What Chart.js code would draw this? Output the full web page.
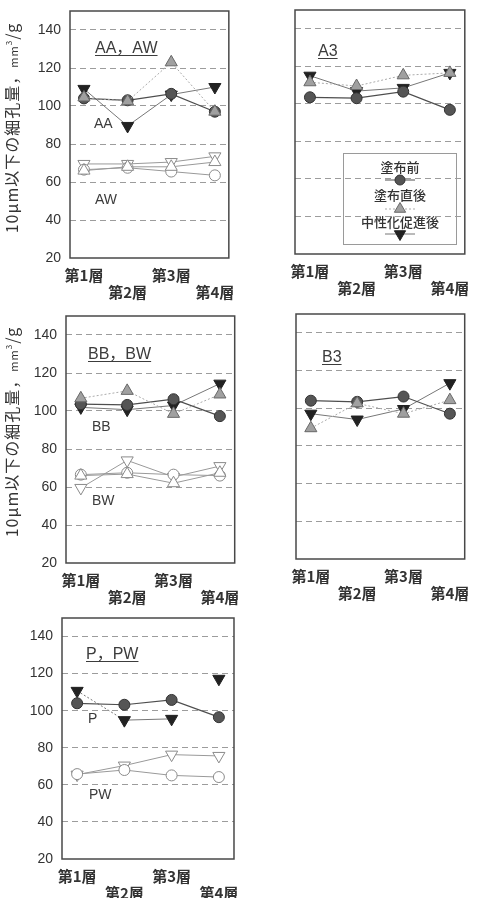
<!DOCTYPE html>
<html><head><meta charset="utf-8">
<script src="https://cdn.jsdelivr.net/npm/chart.js@4"></script>
<style>
html,body{margin:0;padding:0;background:#fff;}
body{width:477px;height:898px;position:relative;overflow:hidden;font-family:"Liberation Sans","Noto Sans CJK JP",Arial,sans-serif;}
.t{position:absolute;color:#3c3c3c;white-space:nowrap;line-height:1;}
.ttl{font-size:16px;text-decoration:underline;text-underline-offset:2px;text-decoration-thickness:1px;}
.lab{font-size:14px;}
.yt{font-family:"Noto Sans CJK JP",sans-serif;font-size:16px;color:#333;transform:translate(-50%,-50%) rotate(-90deg);letter-spacing:1px;}
.yt small{font-size:11px;}
#legend{position:absolute;border:1px solid #9a9a9a;box-sizing:border-box;}
#legend .lt{position:absolute;left:0;width:100%;text-align:center;font-family:"Noto Sans CJK JP",sans-serif;font-size:13px;font-weight:500;color:#333;line-height:1;}
</style></head><body>
<script>
// ---- data ----
const layers = ['第1層','第2層','第3層','第4層'];
const yTicks = [20,40,60,80,100,120,140];
const seriesNames = ['塗布前','塗布直後','中性化促進後'];

const AA_before = [104, 103, 106.4, 97];
const AA_after  = [104.5, 102.5, 123, 97];
const AA_carb   = [109, 89.5, 106, 110];
const AW_before = [66.5, 67.5, 65.5, 63.5];
const AW_after  = [66, 68, 68, 70.5];
const AW_carb   = [69.5, 69.5, 70.5, 73.5];

const A3_before = [103.5, 103, 106.5, 96.8];
const A3_after  = [111.5, 109.5, 115.2, 116.5];
const A3_carb   = [115, 106.8, 108.5, 116.5];

const BB_before = [103.6, 103.2, 106.2, 97.3];
const BB_after  = [106.7, 110.6, 98.5, 108.7];
const BB_carb   = [101.9, 100.7, 102.9, 114.4];
const BW_before = [66.5, 67.5, 66.5, 66];
const BW_after  = [66, 66.8, 62, 67.5];
const BW_carb   = [59.5, 74, 65.3, 71];

const B3_before = [104, 103.4, 106.2, 97.1];
const B3_after  = [89.4, 102.6, 97.1, 104.3];
const B3_carb   = [97.1, 94, 99.6, 113.3];

const P_before  = [104, 103.2, 105.8, 96.5];
const P_carb    = [110.7, 94.9, 95.6, 117.2];
const PW_before = [65.8, 68, 65.1, 64.2];
const PW_carb   = [65.5, 70.4, 76.3, 75.6];

// ---- styles ----
const STY = {
  before:{pointStyle:'circle', rot:0, r:5.5, fill:'#555555', edge:'#333333', line:'#4e4e4e', lw:1.2, dash:[], order:1},
  after:{pointStyle:'triangle', rot:0, r:7, fill:'#a0a0a0', edge:'#686868', line:'#ababab', lw:1, dash:[2,2], order:0},
  carb:{pointStyle:'triangle', rot:180, r:7, fill:'#222222', edge:'#222222', line:'#777777', lw:1, dash:[], order:2}
};
function ds(values, key, open, extra){
  const s = STY[key];
  return Object.assign({
    label: seriesNames[['before','after','carb'].indexOf(key)],
    data: values.map((v,i)=>({x:i, y:v})),
    pointStyle:s.pointStyle, pointRotation:s.rot, pointRadius:s.r, pointHoverRadius:s.r,
    pointBackgroundColor: open ? '#ffffff' : s.fill,
    pointBorderColor: open ? '#8a8a8a' : s.edge,
    pointBorderWidth: 1,
    borderColor: open ? '#999999' : s.line,
    backgroundColor: open ? '#ffffff' : s.fill,
    borderWidth: open ? 1 : s.lw,
    borderDash: open ? [] : s.dash,
    order: s.order + (open ? 3 : 0),
    tension:0, fill:false
  }, extra || {});
}

const frame = {id:'frame', beforeDatasetsDraw(c){
  const a=c.chartArea, x=c.ctx; x.save(); x.strokeStyle='#484848'; x.lineWidth=1.5;
  x.strokeRect(a.left, a.top, a.right-a.left, a.bottom-a.top); x.restore();
}};

function makeChart(box, datasets, showY){
  const yW = showY ? 62 : 20, pt = 20, pr = 8, xH = 44;
  const cv = document.createElement('canvas');
  cv.width = yW + box.w + pr; cv.height = pt + box.h + xH;
  cv.style.cssText = 'position:absolute;left:'+(box.x - yW)+'px;top:'+(box.y - pt)+'px;';
  document.body.appendChild(cv);
  return new Chart(cv, {
    type:'line',
    data:{datasets},
    options:{
      responsive:false, animation:false, events:[],
      layout:{padding:{top:pt, right:pr, left:0, bottom:0}},
      plugins:{legend:{display:false}, tooltip:{enabled:false}},
      scales:{
        x:{type:'linear', min:-0.32, max:3.32,
           afterBuildTicks(a){ a.ticks = layers.map((_,i)=>({value:i})); },
           afterFit(a){ a.height = xH; },
           grid:{display:false, drawTicks:false}, border:{display:false},
           ticks:{autoSkip:false, maxRotation:0, minRotation:0, padding:9, color:'#333',
             font:{family:'"Noto Sans CJK JP"', size:15, weight:'bold', lineHeight:1.13},
             callback:(v)=>{ const i=Math.round(v); return i%2===0 ? [layers[i],''] : ['',layers[i]]; }}},
        y:{type:'linear', min:20, max:150,
           afterBuildTicks(a){ a.ticks = yTicks.map(v=>({value:v})); },
           afterFit(a){ a.width = yW; },
           grid:{drawTicks:false, lineWidth:1, color:(c)=> (c.tick && c.tick.value===20) ? 'rgba(0,0,0,0)' : '#9c9c9c'},
           border:{display:false, dash:[6,4]},
           ticks:{display:showY, padding:9, color:'#333', font:{family:'"Liberation Sans"', size:14}}}
      }
    },
    plugins:[frame]
  });
}

makeChart({x:70, y:11, w:166, h:247}, [
  ds(AA_before,'before'), ds(AA_after,'after'), ds(AA_carb,'carb'),
  ds(AW_before,'before',true), ds(AW_after,'after',true), ds(AW_carb,'carb',true)
], true);
makeChart({x:295, y:10, w:176, h:244}, [
  ds(A3_before,'before'), ds(A3_after,'after'), ds(A3_carb,'carb')
], false);
makeChart({x:66, y:316, w:175, h:247}, [
  ds(BB_before,'before'), ds(BB_after,'after'), ds(BB_carb,'carb'),
  ds(BW_before,'before',true), ds(BW_after,'after',true), ds(BW_carb,'carb',true)
], true);
makeChart({x:296, y:314, w:175, h:245}, [
  ds(B3_before,'before'), ds(B3_after,'after'), ds(B3_carb,'carb')
], false);
makeChart({x:62, y:618, w:178, h:241}, [
  ds(P_before,'before'),
  ds(P_carb,'carb',false,{segment:{borderColor:(c)=> c.p0DataIndex===2 ? 'rgba(0,0,0,0)' : undefined, borderDash:(c)=> c.p0DataIndex===0 ? [2,2] : undefined}}),
  ds(PW_before,'before',true), ds(PW_carb,'carb',true)
], true);

// ---- text ----
function txt(s, x, baseline, cls, fs){
  const d = document.createElement('div');
  d.className = 't ' + cls; d.textContent = s;
  d.style.left = x + 'px'; d.style.top = (baseline - 0.85*fs) + 'px';
  document.body.appendChild(d); return d;
}
txt('AA，AW', 95, 54, 'ttl', 16);
txt('A3', 318, 57, 'ttl', 16);
txt('BB，BW', 88, 360, 'ttl', 16);
txt('B3', 322, 363, 'ttl', 16);
txt('P，PW', 86, 660, 'ttl', 16);
txt('AA', 94, 128, 'lab', 14);
txt('AW', 95, 204, 'lab', 14);
txt('BB', 92, 431, 'lab', 14);
txt('BW', 92, 505, 'lab', 14);
txt('P', 88, 723, 'lab', 14);
txt('PW', 89, 799, 'lab', 14);

function yTitle(cx, cy){
  const d = document.createElement('div');
  d.className = 't yt';
  d.innerHTML = '10μm以下の細孔量，<small>mm</small><sup style="font-size:8px">3</sup>/g';
  d.style.left = cx + 'px'; d.style.top = cy + 'px';
  document.body.appendChild(d);
}
yTitle(11, 128);
yTitle(11, 432);

// ---- legend (in A3 panel) ----
(function(){
  const L = document.createElement('div'); L.id = 'legend';
  L.style.cssText = 'left:343px;top:153px;width:114px;height:92px;';
  document.body.appendChild(L);
  const keys = ['before','after','carb'];
  const textY = [6, 34, 61], markY = [26, 55, 80], cx = 56;
  keys.forEach((k,i)=>{
    const t = document.createElement('div'); t.className='lt'; t.textContent = seriesNames[i];
    t.style.top = textY[i] + 'px'; L.appendChild(t);
    const s = STY[k];
    const svgNS = 'http://www.w3.org/2000/svg';
    const svg = document.createElementNS(svgNS,'svg');
    svg.setAttribute('width','40'); svg.setAttribute('height','16');
    svg.style.cssText = 'position:absolute;left:'+(cx-20)+'px;top:'+(markY[i]-8)+'px;';
    const ln = document.createElementNS(svgNS,'line');
    ln.setAttribute('x1','5'); ln.setAttribute('x2','35'); ln.setAttribute('y1','8'); ln.setAttribute('y2','8');
    ln.setAttribute('stroke', s.line); ln.setAttribute('stroke-width','1');
    if (s.dash.length) ln.setAttribute('stroke-dasharray', s.dash.join(','));
    svg.appendChild(ln);
    const r = s.r - 0.5;
    let m;
    if (s.pointStyle === 'circle') {
      m = document.createElementNS(svgNS,'circle'); m.setAttribute('cx','20'); m.setAttribute('cy','8'); m.setAttribute('r', r);
    } else {
      m = document.createElementNS(svgNS,'polygon');
      const pts = [0,1,2].map(j=>{ const a = (s.rot*Math.PI/180) + j*2*Math.PI/3; return (20+Math.sin(a)*r).toFixed(2)+','+(8-Math.cos(a)*r).toFixed(2); });
      m.setAttribute('points', pts.join(' '));
    }
    m.setAttribute('fill', s.fill); m.setAttribute('stroke', s.edge); m.setAttribute('stroke-width','1');
    svg.appendChild(m);
    L.appendChild(svg);
  });
})();
</script>
</body></html>
